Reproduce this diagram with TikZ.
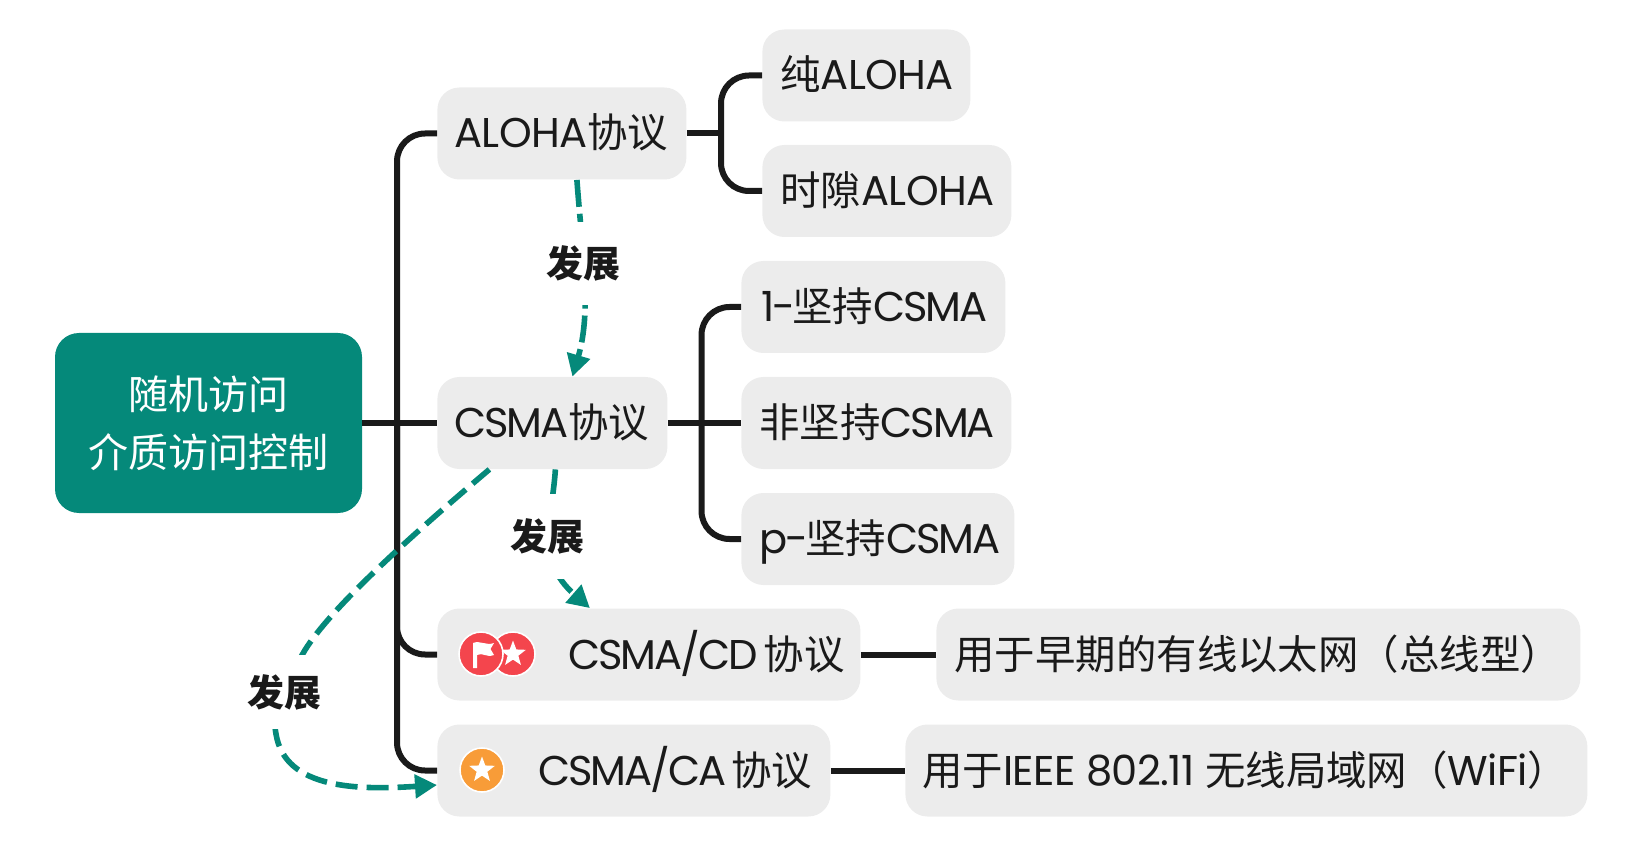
\documentclass[tikz,border=0pt]{standalone}
\usepackage{fontspec}
\setmainfont{Poppins}[LetterSpace=-1.5]
\newfontfamily\cjk{Noto Sans CJK SC}[Scale=0.972]
\newfontfamily\nrw{Poppins}[LetterSpace=-5]
\usetikzlibrary{arrows.meta,shapes.geometric,calc}
\newlength\px \setlength\px{0.5pt}
\newcommand\zh[1]{{\cjk #1}}
\newcommand\nr[1]{{\nrw #1}}
\newcommand\boxtxt[3]{\makebox[#1\px][l]{\rule[-11.5pt]{0pt}{37.5pt}\hspace*{#2\px}#3}}
\definecolor{teal1}{HTML}{05897A}
\definecolor{boxgray}{HTML}{ECECEC}
\definecolor{ink}{HTML}{1A1A1A}
\definecolor{redic}{HTML}{F4454D}
\definecolor{orangeic}{HTML}{F89C38}
\tikzset{
  item/.style={fill=boxgray,rounded corners=11pt,inner sep=0pt,minimum height=46pt,anchor=west,text=ink,font=\fontsize{20.8}{24}\selectfont},
  rootbox/.style={fill=teal1,rounded corners=12pt,inner sep=0pt,minimum width=153.5pt,minimum height=90pt,text=white,align=center,font=\fontsize{20.6}{29}\selectfont},
  conn/.style={draw=ink,line width=3pt,rounded corners=14pt},
  evo/.style={draw=teal1,line width=2.8pt,dash pattern=on 13.5pt off 3.5pt,-{Triangle[length=11pt,width=11.5pt]}},
  evolabel/.style={fill=white,inner sep=0pt,minimum width=37pt,text=ink,font=\fontsize{19}{22}\selectfont\cjk\bfseries},
  badge/.style={circle,inner sep=0pt,minimum size=22pt,draw=white,line width=0.8pt},
  starmark/.style={star,star points=5,star point ratio=2.4,fill=white,inner sep=0pt,minimum size=13.5pt},
}
\begin{document}
\begin{tikzpicture}[x=0.5pt,y=-0.5pt]
\useasboundingbox (0,0) rectangle (1632,844);
% boxes
\node[rootbox] (root) at (208.5,423) {\zh{随机访问}\\\zh{介质访问控制}};
\node[item] (aloha) at (437,133.5) {\boxtxt{249}{17}{ALOHA\zh{协议}}};
\node[item] (csma) at (437,423) {\boxtxt{230}{17}{\nr{CSMA}\zh{协议}}};
\node[item] (cd) at (437,654.5) {\boxtxt{423}{131}{\nr{CSMA/CD }\hspace{-3\px}\zh{协议}}};
\node[item] (ca) at (437,770.5) {\boxtxt{393}{101}{\nr{CSMA/CA }\hspace{-4\px}\zh{协议}}};
\node[item] (pure) at (762,75.5) {\boxtxt{208}{18}{\zh{纯}ALOHA}};
\node[item] (slot) at (762,191) {\boxtxt{249}{18}{\zh{时隙}ALOHA}};
\node[item] (one) at (741,307) {\boxtxt{264}{20}{\nr{1-}\hspace{-3\px}\zh{坚持}\nr{CSMA}}};
\node[item] (non) at (741,423) {\boxtxt{270}{18}{\zh{非坚持}\nr{CSMA}}};
\node[item] (pp) at (741,539) {\boxtxt{273}{18}{\nr{p-}\hspace{-3\px}\zh{坚持}\nr{CSMA}}};
\node[item] (cdnote) at (936,654.5) {\boxtxt{644}{18}{\zh{用于早期的有线以太网（总线型）}}};
\node[item] (canote) at (905,770.5) {\boxtxt{682}{17}{\zh{用于}IEEE 802.11 \zh{无线局域网（}WiFi\zh{）}}};
% tree connectors
\coordinate (trunk) at (397,423);
\coordinate (br1) at (721,133.5);
\coordinate (br2) at (701.5,423);
\draw[conn] (root.east) -- (csma.west);
\draw[conn] (aloha.west) -| (trunk) |- (ca.west);
\draw[conn] (trunk) |- (cd.west);
\draw[conn] (aloha.east) -- (br1);
\draw[conn] (pure.west) -| (br1) |- (slot.west);
\draw[conn] (csma.east) -- (non.west);
\draw[conn] (one.west) -| (br2) |- (pp.west);
\draw[conn] (cd.east) -- (cdnote.west);
\draw[conn] (ca.east) -- (canote.west);
% development arrows
\draw[evo] ([xshift=7.5pt]aloha.south) .. controls (582,250) and (592,310) .. ([xshift=10pt]csma.north);
\draw[evo] ([xshift=1.5pt]csma.south) .. controls (552,520) and (535,560) .. ([xshift=-29.5pt]cd.north);
\draw[evo,dash pattern=on 11pt off 4.5pt] ([xshift=-31.5pt]csma.south) .. controls (400,545) and (330,610) .. (305,650) .. controls (285,685) and (270,700) .. (276,734) .. controls (285,790) and (360,790) .. ([yshift=-7.25pt]ca.west);
\node[evolabel,minimum height=41.5pt] (lab1) at (583,263.5) {发展};
\node[evolabel,minimum height=42.5pt] (lab2) at (547,536.5) {发展};
\node[evolabel,minimum height=37pt] (lab3) at (284,692) {发展};
% badges
\node[badge,fill=redic] (b2) at (513,654) {};
\node[starmark] (s2) at (513,654) {};
\node[badge,fill=redic] (b1) at (481,654) {};
\fill[white] (473,643) .. controls (480,640) and (486,646) .. (494,643) -- (490.5,649) -- (494,655) .. controls (486,658) and (483,652) .. (477,655) -- (477,668) -- (473,668) -- cycle;
\node[badge,fill=orangeic] (b3) at (482,770) {};
\node[starmark] (s3) at (482,770) {};
\end{tikzpicture}
\end{document}
